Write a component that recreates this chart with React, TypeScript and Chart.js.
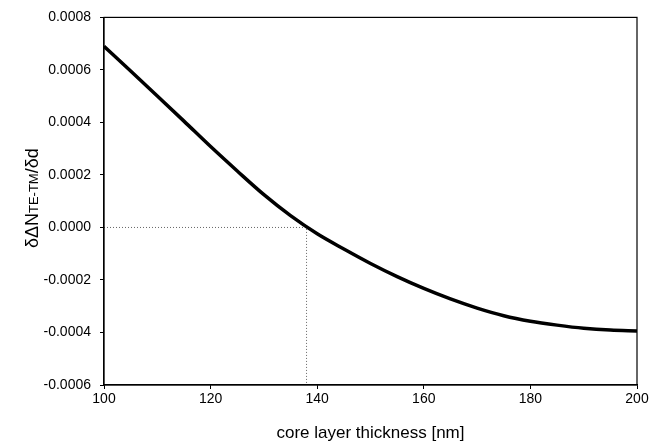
import React, { useEffect, useRef } from "react";
import { Chart, registerables } from "chart.js";

Chart.register(...registerables);

const thickness = [100, 105, 110, 115, 120, 125, 130, 135, 140, 145, 150, 155, 160, 165, 170, 175, 180, 185, 190, 195, 200];
const derivative = [
  0.00069, 0.000596, 0.000501, 0.000405, 0.000308, 0.000215, 0.000125, 0.000045, -0.000024, -0.000082,
  -0.000137, -0.000187, -0.000232, -0.000272, -0.000307, -0.000336, -0.000357, -0.000372, -0.000384, -0.000391, -0.000394,
];
const markerX = [100, 138, 138];
const markerY = [0, 0, -0.0006];
const xTicks = [100, 120, 140, 160, 180, 200];
const yTitleParts = [
  { text: "δΔN", size: 18 },
  { text: "TE-TM", size: 13 },
  { text: "/δd", size: 18 },
];
const xTitle = "core layer thickness [nm]";

const FONT = "'Liberation Sans', Arial, Helvetica, sans-serif";

const framePlugin = {
  id: "frameAndTitle",
  afterDraw(chart: any) {
    const { ctx, chartArea } = chart;
    ctx.save();
    ctx.strokeStyle = "#000";
    ctx.lineWidth = 1.2;
    ctx.strokeRect(chartArea.left, chartArea.top, chartArea.right - chartArea.left, chartArea.bottom - chartArea.top);
    let total = 0;
    for (const p of yTitleParts) {
      ctx.font = `${p.size}px ${FONT}`;
      total += ctx.measureText(p.text).width;
    }
    const cy = (chartArea.top + chartArea.bottom) / 2 - 3;
    ctx.translate(38, cy + total / 2);
    ctx.rotate(-Math.PI / 2);
    ctx.fillStyle = "#000";
    ctx.textBaseline = "alphabetic";
    ctx.textAlign = "left";
    let x = 0;
    for (const p of yTitleParts) {
      ctx.font = `${p.size}px ${FONT}`;
      ctx.fillText(p.text, x, 0);
      x += ctx.measureText(p.text).width;
    }
    ctx.restore();
  },
};

export default function App() {
  const ref = useRef<HTMLCanvasElement | null>(null);
  useEffect(() => {
    if (!ref.current) return;
    const chart = new Chart(ref.current, {
      type: "line",
      data: {
        datasets: [
          {
            data: thickness.map((t, i) => ({ x: t, y: derivative[i] })),
            borderColor: "#000",
            borderWidth: 3.5,
            pointRadius: 0,
            cubicInterpolationMode: "monotone",
            fill: false,
          },
          {
            data: markerX.map((t, i) => ({ x: t, y: markerY[i] })),
            borderColor: "#666",
            borderWidth: 1,
            borderDash: [1, 2],
            pointRadius: 0,
            tension: 0,
            fill: false,
          },
        ],
      },
      options: {
        responsive: false,
        animation: false,
        layout: { padding: { left: 0, top: 15, right: 24, bottom: 0 } },
        plugins: { legend: { display: false }, tooltip: { enabled: false } },
        scales: {
          x: {
            type: "linear",
            min: 100,
            max: 200,
            afterFit: (s: any) => {
              s.height = 62;
            },
            afterBuildTicks: (s: any) => {
              s.ticks = xTicks.map((v) => ({ value: v }));
            },
            grid: { display: true, drawOnChartArea: false, drawTicks: true, tickLength: 4, color: "#000", lineWidth: 1 },
            border: { display: true, color: "#000", width: 1.2 },
            ticks: {
              color: "#000",
              font: { family: FONT, size: 14 },
              padding: 2,
              maxRotation: 0,
              callback: (v: any) => String(v),
            },
            title: {
              display: true,
              text: xTitle,
              color: "#000",
              font: { family: FONT, size: 17 },
              padding: { top: 3, bottom: 3 },
            },
          },
          y: {
            type: "linear",
            min: -0.0006,
            max: 0.0008,
            afterFit: (s: any) => {
              s.width = 104;
            },
            grid: { display: true, drawOnChartArea: false, drawTicks: true, tickLength: 4, color: "#000", lineWidth: 1 },
            border: { display: true, color: "#000", width: 1.2 },
            ticks: {
              stepSize: 0.0002,
              color: "#000",
              font: { family: FONT, size: 14 },
              padding: 9,
              callback: (v: any) => {
                const n = Math.round(Number(v) * 10000) / 10000;
                return (Object.is(n, -0) ? 0 : n).toFixed(4);
              },
            },
          },
        },
      },
      plugins: [framePlugin],
    } as any);
    return () => chart.destroy();
  }, []);
  return (
    <div style={{ position: "absolute", left: 0, top: 0, width: 661, height: 447, background: "#fff" }}>
      <canvas ref={ref} width={661} height={447} style={{ display: "block" }} />
    </div>
  );
}
